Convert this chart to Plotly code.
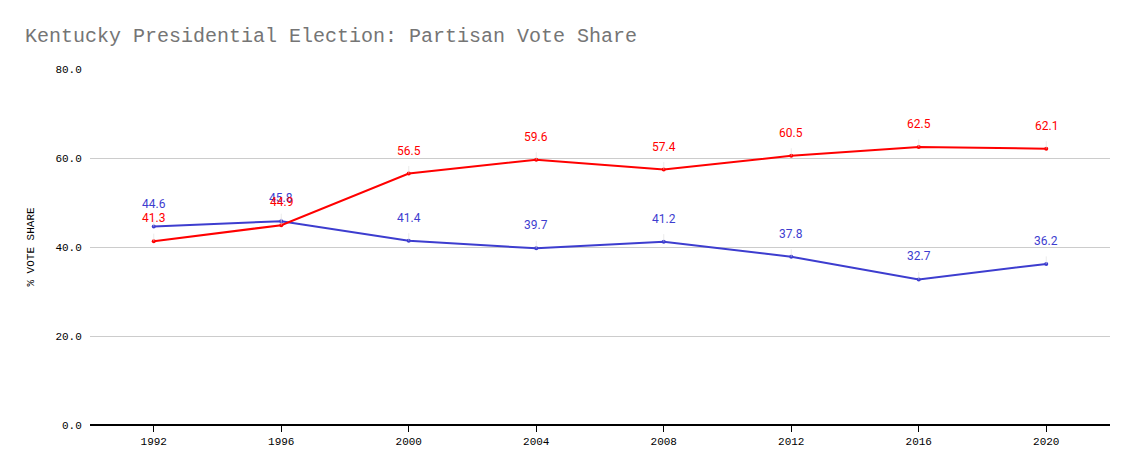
import plotly.graph_objects as go

years = [1992, 1996, 2000, 2004, 2008, 2012, 2016, 2020]
rep = [41.3, 44.9, 56.5, 59.6, 57.4, 60.5, 62.5, 62.1]
dem = [44.6, 45.8, 41.4, 39.7, 41.2, 37.8, 32.7, 36.2]
y_ticks = [0, 20, 40, 60, 80]

RED = "#ff0000"
BLUE = "#3d3dcf"

fig = go.Figure()
for name, vals, col in [("Democratic", dem, BLUE), ("Republican", rep, RED)]:
    fig.add_trace(go.Scatter(
        x=years, y=vals, mode="lines+markers", name=name,
        line=dict(color=col, width=2), marker=dict(color=col, size=4),
        showlegend=False, hoverinfo="x+y"))

annotations = []
for vals, col in [(dem, BLUE), (rep, RED)]:
    for x, v in zip(years, vals):
        annotations.append(dict(
            x=x, y=v, xref="x", yref="y", text=f"{v:.1f}",
            showarrow=True, arrowhead=0, arrowwidth=0.6, arrowcolor="#dddddd",
            ax=0, ay=-23, standoff=0, startstandoff=7,
            font=dict(family="Roboto", size=12, color=col)))

H = 475
fig.update_layout(
    width=1133, height=H,
    margin=dict(l=82, r=31, t=61, b=58),
    paper_bgcolor="white", plot_bgcolor="white",
    title=dict(text="Kentucky Presidential Election: Partisan Vote Share",
               x=17/1133, xanchor="left", y=1-27/H, yanchor="middle",
               font=dict(family="Liberation Mono", size=20, color="#757575")),
    annotations=annotations,
    xaxis=dict(range=[1990, 2022], tickvals=years, ticktext=[str(y) for y in years],
               showgrid=False, zeroline=False, showline=False,
               ticks="outside", ticklen=6, tickcolor="#000000", tickwidth=1,
               tickfont=dict(family="Liberation Mono", size=11, color="#000000")),
    yaxis=dict(range=[0, 80], tickvals=y_ticks, ticktext=[f"{v:.1f}" for v in y_ticks],
               showgrid=True, gridcolor="#cccccc", gridwidth=1,
               zeroline=True, zerolinecolor="#000000", zerolinewidth=1.5,
               showline=False, ticks="outside", ticklen=5, tickcolor="rgba(0,0,0,0)",
               tickfont=dict(family="Liberation Mono", size=11, color="#000000"),
               title=dict(text="% VOTE SHARE", standoff=18,
                          font=dict(family="Liberation Mono", size=11, color="#000000"))),
)

fig.write_html("out.html")
